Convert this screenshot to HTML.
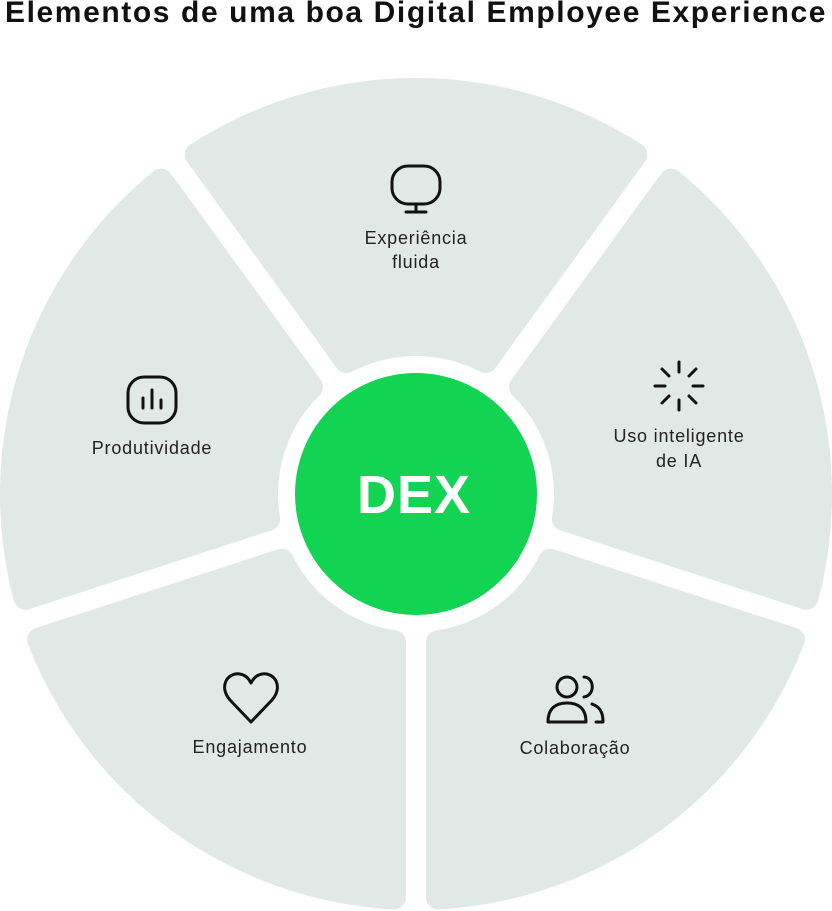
<!DOCTYPE html>
<html><head><meta charset="utf-8">
<style>
html,body{margin:0;padding:0;background:#fff;}
body{width:832px;height:911px;overflow:hidden;position:relative;font-family:"Liberation Sans",sans-serif;}
h1{position:absolute;left:0;top:-4px;width:832px;margin:0;text-align:center;font-size:30px;font-weight:bold;color:#111;letter-spacing:1.6px;white-space:nowrap;}
svg{position:absolute;left:0;top:0;}
</style></head><body>
<h1>Elementos de uma boa Digital Employee Experience</h1>
<svg width="832" height="911" viewBox="0 0 832 911" id="s">
<g id="segs"></g>
<circle cx="416" cy="494" r="121" fill="#13d452"/>
<text x="414" y="513" text-anchor="middle" font-family="Liberation Sans, sans-serif" font-weight="bold" font-size="54" letter-spacing="1" fill="#fff">DEX</text>
<g font-family="Liberation Sans, sans-serif" font-size="18" letter-spacing="0.8" fill="#222" text-anchor="middle">
<text x="416" y="244">Experiência</text><text x="416" y="268">fluida</text>
<text x="152" y="454">Produtividade</text>
<text x="679" y="442">Uso inteligente</text><text x="679" y="467">de IA</text>
<text x="250" y="753">Engajamento</text>
<text x="575" y="754">Colaboração</text>
</g>
<g fill="none" stroke="#111" stroke-width="3" stroke-linecap="round" stroke-linejoin="round">
<rect x="392" y="166" width="48" height="38" rx="16"/>
<line x1="416" y1="204" x2="416" y2="212"/><line x1="406" y1="212" x2="426" y2="212"/>
<rect x="128" y="377" width="48" height="46" rx="16"/>
<line x1="143" y1="398" x2="143" y2="408"/><line x1="152" y1="390" x2="152" y2="408"/><line x1="161" y1="400" x2="161" y2="408"/>
<line x1="679" y1="362" x2="679" y2="372"/><line x1="679" y1="400" x2="679" y2="410"/>
<line x1="655" y1="386" x2="665" y2="386"/><line x1="693" y1="386" x2="703" y2="386"/>
<line x1="662" y1="369" x2="669" y2="376"/><line x1="689" y1="396" x2="696" y2="403"/>
<line x1="696" y1="369" x2="689" y2="376"/><line x1="669" y1="396" x2="662" y2="403"/>
<path d="M251 722 L230 700 C218 686 228 672 240 674 C246 675 249 679 251 683 C253 679 256 675 262 674 C274 672 284 686 272 700 Z"/>
<circle cx="567" cy="687" r="10"/>
<path d="M548 722 C548 708 556 703 567 703 C578 703 586 708 586 722 Z"/>
<path d="M584 677 C594 677 596 695 584 697"/>
<path d="M592 704 C600 707 603 712 603 722 L596 722"/>
</g>
</svg>
<script>
(function(){
var cx=416,cy=494,R=416-12,r=138+12,d=10+12,g=document.getElementById('segs'),h='';
function P(rad,a,sgn){var rp=Math.sqrt(rad*rad-d*d);var ux=Math.cos(a),uy=Math.sin(a);var nx,ny;if(sgn>0){nx=-uy;ny=ux;}else{nx=uy;ny=-ux;}return [(cx+rp*ux+d*nx).toFixed(2),(cy+rp*uy+d*ny).toFixed(2)];}
var c=[-90,-18,54,126,198];
for(var i=0;i<5;i++){var a1=(c[i]-36)*Math.PI/180,a2=(c[i]+36)*Math.PI/180;
var o1=P(R,a1,1),o2=P(R,a2,-1),i2=P(r,a2,-1),i1=P(r,a1,1);
h+='<path d="M'+o1+' A'+R+' '+R+' 0 0 1 '+o2+' L'+i2+' A'+r+' '+r+' 0 0 0 '+i1+' Z" fill="#e0e9e5" stroke="#e0e9e5" stroke-width="24" stroke-linejoin="round"/>';}
g.innerHTML=h;
})();
</script>
</body></html>
